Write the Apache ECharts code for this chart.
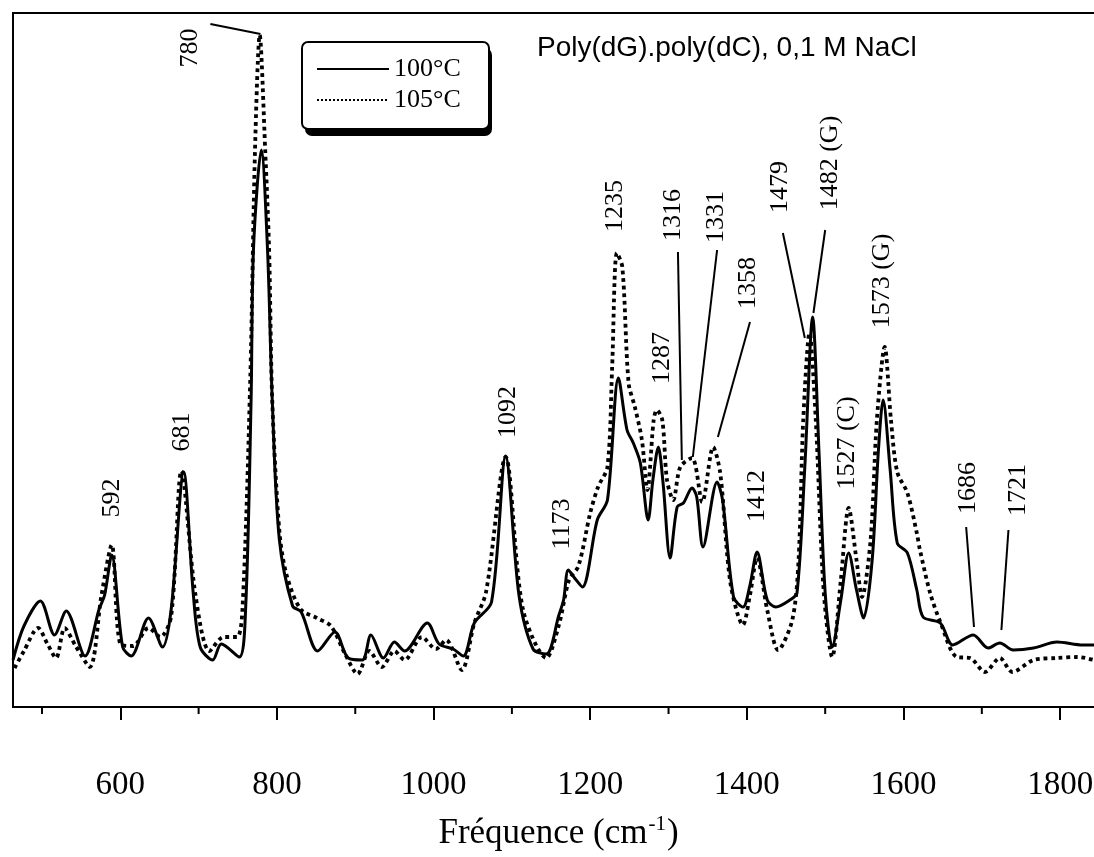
<!DOCTYPE html>
<html><head><meta charset="utf-8">
<script src="https://cdn.jsdelivr.net/npm/echarts@6/dist/echarts.min.js"></script>
<style>html,body{margin:0;padding:0;background:#fff}#c{width:1094px;height:857px}</style>
</head><body><div id="c"></div>
<script>
// Raman spectra, wavenumber (cm-1) and intensity (arbitrary units)
const wn100 = [463,477,498,516,531,555,573,580,589,603,614,636,654,665,681,693,702,718,729,752,760,767,770,780,788,794,803,820,831,852,874,891,909,920,936,950,963,992,1007,1025,1038,1052,1074,1092,1109,1127,1144,1160,1166,1172,1180,1190,1209,1222,1236,1247,1255,1264,1274,1280,1287,1293,1302,1311,1319,1330,1336,1344,1362,1369,1383,1395,1404,1413,1426,1437,1455,1464,1474,1484,1492,1500,1509,1520,1530,1540,1549,1560,1568,1574,1583,1592,1605,1617,1625,1647,1663,1689,1708,1723,1740,1766,1796,1829,1856];
const int100 = [47,81,106,72,96,51,98,112,152,60,51,89,60,98,235,115,60,47,63,50,98,307,457,557,457,307,168,101,95,56,75,49,47,72,49,65,56,84,63,58,51,84,105,251,112,58,53,92,107,137,129,120,187,207,329,277,264,244,187,227,260,224,149,200,204,219,210,160,225,207,110,100,122,155,107,100,107,114,240,390,257,114,60,107,154,117,89,147,257,307,237,164,154,117,90,84,62,72,59,64,57,59,65,62,62];
const wn105 = [465,477,495,507,518,529,543,561,576,589,600,616,636,651,665,678,696,714,732,749,756,766,772,778,785,790,794,803,812,830,851,869,887,903,918,934,950,963,985,1003,1016,1036,1052,1067,1092,1114,1144,1160,1173,1185,1200,1210,1222,1228,1234,1241,1249,1257,1266,1273,1281,1285,1292,1298,1306,1315,1330,1343,1357,1366,1379,1395,1404,1413,1426,1440,1458,1466,1472,1480,1488,1498,1509,1520,1530,1540,1547,1558,1566,1576,1584,1592,1605,1617,1621,1634,1647,1668,1685,1704,1723,1739,1766,1796,1822,1856];
const int105 = [39,56,79,63,49,79,61,40,112,162,63,61,79,70,91,236,112,56,70,70,98,330,557,672,557,457,307,177,133,98,89,81,53,33,56,40,56,47,70,58,67,37,84,115,250,98,49,82,127,141,194,220,240,340,454,440,324,300,267,217,287,297,287,227,207,240,249,205,260,234,124,82,112,149,97,57,87,147,287,374,287,117,50,127,199,147,110,167,287,360,287,235,214,174,157,114,85,50,49,35,49,35,47,49,50,44];
const seriesNames = ['100°C', '105°C'];
const majorTicks = [600, 800, 1000, 1200, 1400, 1600, 1800];
const minorTicks = [500, 700, 900, 1100, 1300, 1500, 1700];
// peak annotations: label, wavenumber, intensity of label centre, optional leader line [v1,i1,v2,i2]
const peakLabels = ['592','681','780','1092','1173','1235','1287','1316','1331','1358','1412','1479','1482 (G)','1527 (C)','1573 (G)','1686','1721'];
const peakLabelX = [590,679,689,1095,1164,1232,1292,1306,1361,1402,1413,1443,1506,1528,1573,1683,1746];
const peakLabelY = [209,275,659,295,183,501,349,492,490,424,211,520,544,264,426,219,217];
const leaderLines = [null,null,[715,683,779,673],null,null,null,null,[1312,455,1317,247],[1362,457,1331,250],[1404,385,1363,270],null,[1446,474,1474,369],[1500,477,1485,394],null,null,[1680,180,1690,80],[1734,177,1725,77]];
const titleText = 'Poly(dG).poly(dC), 0,1 M NaCl';

const chart = echarts.init(document.getElementById('c'));
const pair = (xs, ys) => xs.map((x, i) => [x, ys[i]]);
const serif = '"Liberation Serif", "Times New Roman", serif';

chart.setOption({
  animation: false,
  backgroundColor: '#fff',
  grid: {left: 13, right: -10, top: 13, bottom: 150, show: true, borderColor: '#000', borderWidth: 2,
         outerBoundsMode: 'none', containLabel: false},
  xAxis: {
    type: 'value', min: 463, max: 1856,
    axisLine: {show: true, lineStyle: {color: '#000', width: 2}},
    axisTick: {show: true, length: 13, lineStyle: {color: '#000', width: 2}, customValues: majorTicks},
    axisLabel: {customValues: majorTicks, fontFamily: serif, fontSize: 33, color: '#000', margin: 62,
                formatter: v => String(v)},
    splitLine: {show: false},
    name: 'Fréquence (cm{sup|-1})',
    nameLocation: 'middle', nameGap: 107,
    nameTextStyle: {fontFamily: serif, fontSize: 35, color: '#000',
      rich: {sup: {fontFamily: serif, fontSize: 21, color: '#000', padding: [0, 1, 18, 1]}}}
  },
  yAxis: {
    type: 'value', min: 0, max: 694,
    axisLine: {show: true, lineStyle: {color: '#000', width: 2}},
    axisTick: {show: false}, axisLabel: {show: false}, splitLine: {show: false}
  },
  legend: {
    left: 302, top: 42, orient: 'vertical', z: 10,
    data: seriesNames,
    itemWidth: 72, itemHeight: 2, itemGap: 5,
    padding: [14, 26, 16, 14],
    itemStyle: {opacity: 0},
    textStyle: {fontFamily: serif, fontSize: 26, color: '#000'}
  },
  graphic: [
    {type: 'rect', z: 1, shape: {x: 305, y: 48, width: 187, height: 88, r: 7}, style: {fill: '#000'}},
    {type: 'rect', z: 2, shape: {x: 302, y: 42, width: 187, height: 87, r: 6}, style: {fill: '#fff', stroke: '#000', lineWidth: 2}},
    {type: 'text', z: 2, left: 537, top: 34,
     style: {text: titleText, font: '28px "Liberation Sans", Arial, sans-serif', fill: '#000'}}
  ],
  series: [
    {name: seriesNames[0], type: 'line', data: pair(wn100, int100), symbol: 'none', smooth: 0.3,
     itemStyle: {color: '#000'}, lineStyle: {color: '#000', width: 3}, z: 3},
    {name: seriesNames[1], type: 'line', data: pair(wn105, int105), symbol: 'none', smooth: 0.3,
     itemStyle: {color: '#000'}, lineStyle: {color: '#000', width: 3.8, type: 'dotted'}, z: 2},
    {type: 'custom', silent: true, clip: false, z: 4,
     data: peakLabels.map((t, i) => [peakLabelX[i], peakLabelY[i]]),
     encode: {x: 0, y: 1},
     renderItem: function (params, api) {
       const i = params.dataIndex;
       const p = api.coord([peakLabelX[i], peakLabelY[i]]);
       const children = [{type: 'text', x: p[0], y: p[1], rotation: Math.PI / 2,
         style: {text: peakLabels[i], font: '26px "Liberation Serif", serif', fill: '#000', align: 'center', verticalAlign: 'middle'}}];
       const l = leaderLines[i];
       if (l) {
         const a = api.coord([l[0], l[1]]), b = api.coord([l[2], l[3]]);
         children.push({type: 'line', shape: {x1: a[0], y1: a[1], x2: b[0], y2: b[1]}, style: {stroke: '#000', lineWidth: 2}});
       }
       return {type: 'group', children: children};
     }},
    {type: 'custom', silent: true, clip: false, z: 4,
     data: minorTicks.map(v => [v, 0]),
     encode: {x: 0, y: 1},
     renderItem: function (params, api) {
       const p = api.coord([minorTicks[params.dataIndex], 0]);
       return {type: 'line', shape: {x1: p[0], y1: p[1], x2: p[0], y2: p[1] + 7}, style: {stroke: '#000', lineWidth: 2}};
     }}
  ]
});
</script></body></html>
